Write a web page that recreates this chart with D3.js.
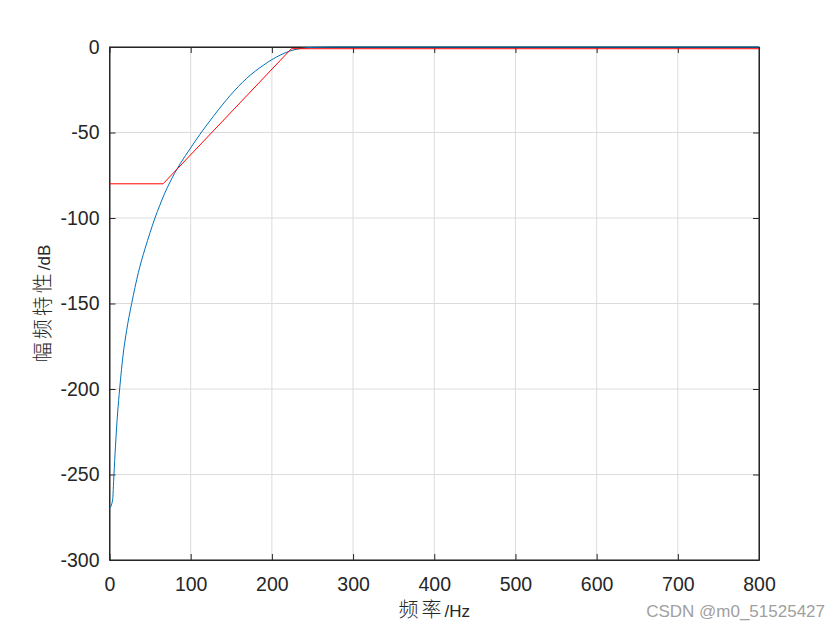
<!DOCTYPE html>
<html>
<head>
<meta charset="utf-8">
<script src="https://cdn.jsdelivr.net/npm/d3@7"></script>
<style>
  body { margin: 0; background: #fff; }
  svg { display: block; }
  .tick text { font-family: "Liberation Sans", Arial, sans-serif; font-size: 19.5px; fill: #262626; }
  .label { font-family: "Liberation Sans", Arial, sans-serif; font-size: 17px; fill: #262626; }
  .cjk { font-family: "Noto Sans CJK SC", sans-serif; font-size: 20px; letter-spacing: 3px; font-weight: 300; }
</style>
</head>
<body>
<div id="chart"></div>
<script>
// filter magnitude response (blue)
var freqHz = [0, 3.8, 5.5, 7.3, 10, 12.5, 17, 21, 27.3, 35.5, 43.7, 50, 56, 62, 68, 74, 80, 87.4, 100, 111.5, 128, 148.4, 169, 190, 200, 210, 222, 235, 251, 275, 300, 400, 500, 600, 700, 800]
var magDb = [-270, -265, -250, -234, -214, -200, -179, -166, -150, -132, -118, -108.5, -100, -92.5, -85.5, -79.5, -74, -68, -59, -51, -40.5, -28.5, -18.3, -10.5, -7.4, -4.8, -2.4, -0.9, -0.2, 0, 0, 0, 0, 0, 0, 0]

// spec mask (red)
var maskHz = [0, 66, 224, 800]
var maskDb = [-80, -80, -1, -1]

var xTicks = [0, 100, 200, 300, 400, 500, 600, 700, 800]
var yTicks = [0, -50, -100, -150, -200, -250, -300]

var margin = { top: 47, right: 81, bottom: 70, left: 109.5 }
var width = 840 - margin.left - margin.right
var height = 630 - margin.top - margin.bottom

var svg = d3.select('#chart').append('svg')
    .attr('width', 840)
    .attr('height', 630)

var g = svg.append('g')
    .attr('transform', 'translate(' + margin.left + ',' + margin.top + ')')

var xScale = d3.scaleLinear().domain([0, 800]).range([0, width])
var yScale = d3.scaleLinear().domain([-300, 0]).range([height, 0])

// grid
g.append('g').selectAll('line')
  .data(xTicks)
  .enter().append('line')
  .attr('x1', function(d){ return xScale(d) })
  .attr('x2', function(d){ return xScale(d) })
  .attr('y1', 0).attr('y2', height)
  .attr('stroke', '#dcdcdc').attr('stroke-width', 1)

g.append('g').selectAll('line')
  .data(yTicks)
  .enter().append('line')
  .attr('y1', function(d){ return yScale(d) })
  .attr('y2', function(d){ return yScale(d) })
  .attr('x1', 0).attr('x2', width)
  .attr('stroke', '#dcdcdc').attr('stroke-width', 1)

// axes, ticks pointing inwards
var xAxis = d3.axisBottom(xScale).tickValues(xTicks).tickSizeInner(-6).tickSizeOuter(0).tickPadding(17)
var yAxis = d3.axisLeft(yScale).tickValues(yTicks).tickSizeInner(-6).tickSizeOuter(0).tickPadding(10)
  .tickFormat(function(d){ return d < 0 ? '-' + Math.abs(d) : d })

g.append('g')
  .attr('transform', 'translate(0,' + height + ')')
  .call(xAxis)
g.append('g')
  .call(yAxis)
g.append('g')
  .call(d3.axisTop(xScale).tickValues(xTicks).tickSizeInner(-6).tickSizeOuter(0).tickFormat(''))
g.append('g')
  .attr('transform', 'translate(' + width + ',0)')
  .call(d3.axisRight(yScale).tickValues(yTicks).tickSizeInner(-6).tickSizeOuter(0).tickFormat(''))

g.selectAll('.domain').attr('stroke', '#262626')
g.selectAll('.tick line').attr('stroke', '#262626')

// box
g.append('rect')
  .attr('width', width).attr('height', height)
  .attr('fill', 'none').attr('stroke', '#262626').attr('stroke-width', 1)

// curves
var blueLine = d3.line()
  .x(function(d, i){ return xScale(freqHz[i]) })
  .y(function(d){ return yScale(d) })
  .curve(d3.curveMonotoneX)

var redLine = d3.line()
  .x(function(d, i){ return xScale(maskHz[i]) })
  .y(function(d){ return yScale(d) })

g.append('path')
  .datum(magDb)
  .attr('d', blueLine)
  .attr('fill', 'none')
  .attr('stroke', '#0072BD')
  .attr('stroke-width', 1)

g.append('path')
  .datum(maskDb)
  .attr('d', redLine)
  .attr('fill', 'none')
  .attr('stroke', '#FF0000')
  .attr('stroke-width', 1)

// labels
var xl = svg.append('text')
  .attr('class', 'label')
  .attr('x', margin.left + width / 2)
  .attr('y', 617)
  .attr('text-anchor', 'middle')
xl.append('tspan').attr('class', 'cjk').text('频率')
xl.append('tspan').text('/Hz')

var yl = svg.append('text')
  .attr('class', 'label')
  .attr('transform', 'translate(50,' + (margin.top + height / 2) + ') rotate(-90)')
  .attr('text-anchor', 'middle')
yl.append('tspan').attr('class', 'cjk').text('幅频特性')
yl.append('tspan').text('/dB')

svg.append('text')
  .attr('x', 825)
  .attr('y', 617)
  .attr('text-anchor', 'end')
  .attr('font-family', '"Liberation Sans", Arial, sans-serif')
  .attr('font-size', 17)
  .attr('fill', '#a0a0a0')
  .text('CSDN @m0_51525427')
</script>
</body>
</html>
